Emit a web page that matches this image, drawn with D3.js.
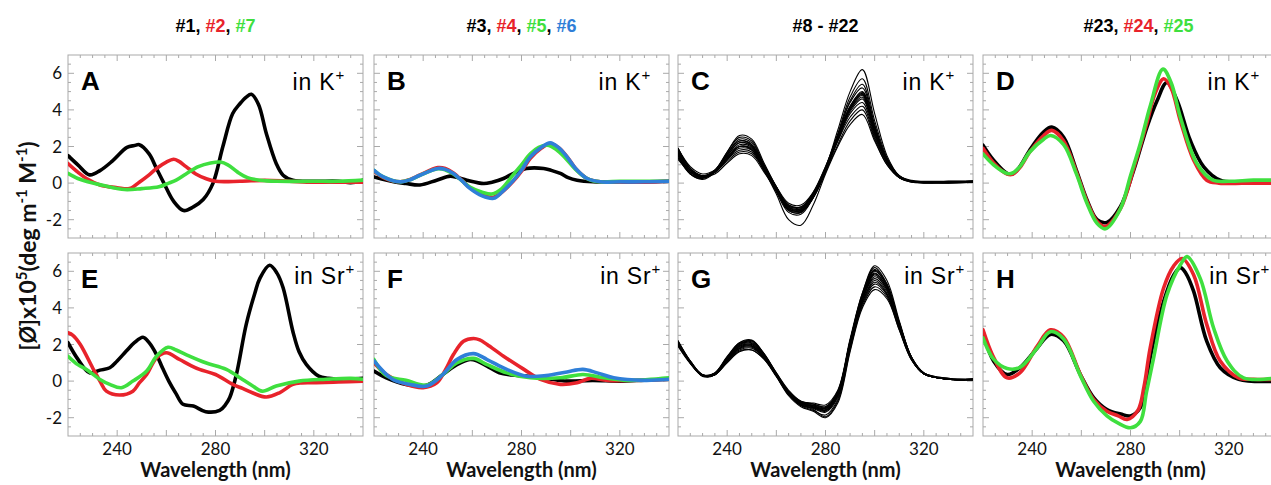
<!DOCTYPE html>
<html>
<head>
<meta charset="utf-8">
<script src="https://cdn.jsdelivr.net/npm/d3@7"></script>
<style>
  body { margin: 0; background: #fff; }
  .frame { fill: none; stroke: #a9a9a9; stroke-width: 1; }
  .tk { stroke: #a9a9a9; stroke-width: 1; }
  .ticklab { font-family: Lato, "Open Sans", sans-serif; font-size: 17px; fill: #111; }
  .xtitle { font-family: Lato, "Open Sans", sans-serif; font-size: 20px; font-weight: bold; fill: #111; }
  .ytitle { font-family: Lato, "Open Sans", sans-serif; font-size: 23px; font-weight: bold; fill: #111; }
  .letter { font-family: "Liberation Sans", Arial, sans-serif; font-size: 26px; font-weight: bold; fill: #000; }
  .ion { font-family: "Liberation Sans", Arial, sans-serif; font-size: 23px; letter-spacing: 0.8px; fill: #000; }
  .title { font-family: "Liberation Sans", Arial, sans-serif; font-size: 18px; font-weight: bold; }
  .line { fill: none; stroke-linejoin: round; stroke-linecap: round; }
</style>
</head>
<body>
<svg id="chart"></svg>
<script>
/* global d3 */

var COL = { k: "#000000", r: "#e8232b", g: "#3fdf3f", b: "#2f7fd8" };

// x ticks / labels
var xLabels = [240, 280, 320];
var yLabels = [-2, 0, 2, 4, 6];

// --- panel A (#1 black, #2 red, #7 green) in K+
var aBlack = [[220,1.5],[224,1.0],[228.8,0.45],[233,0.68],[238,1.2],[244,1.95],[247,2.05],[249,2.1],[253,1.6],[256,0.8],[259,0.0],[263,-1.0],[267,-1.5],[271,-1.3],[275,-0.9],[279,0.0],[283,2.0],[287,3.8],[290,4.35],[292.5,4.7],[294.6,4.85],[297.5,4.3],[300.7,2.7],[304.7,1.07],[307.5,0.43],[311.5,0.16],[320,0.1],[330,0.1],[335,0.02],[340,0.15]];
var aRed = [[220,1.07],[224,0.6],[227.5,0.25],[233,-0.1],[240,-0.25],[245,-0.3],[249,0.05],[253,0.45],[256,0.8],[260,1.15],[263,1.3],[265,1.2],[268,0.9],[272,0.5],[276,0.25],[280,0.1],[290,0.1],[300,0.15],[310,0.1],[320,0.05],[330,0.05],[340,0.05]];
var aGreen = [[220,0.53],[224,0.25],[228,0.07],[235,-0.15],[243,-0.35],[250,-0.3],[257,-0.2],[261,0.0],[264,0.16],[268,0.5],[273,0.9],[278,1.1],[282,1.15],[285,1.0],[289,0.6],[293,0.3],[298,0.16],[305,0.1],[320,0.1],[330,0.1],[340,0.16]];

// --- panel E (#1, #2, #7) in Sr+
var eBlack = [[220,2.1],[224,1.2],[228.8,0.45],[233,0.6],[237,0.73],[240,1.1],[243.7,1.64],[247,2.1],[250.5,2.4],[253,2.1],[256,1.45],[258.5,0.7],[261,0.0],[264,-0.7],[266.8,-1.27],[271,-1.36],[276,-1.67],[281.7,-1.6],[284,-1.3],[285.8,-0.9],[288.5,0.36],[292.5,3.1],[296,4.8],[298,5.6],[302,6.33],[305,5.9],[307.5,5.1],[311.5,2.7],[314,1.6],[317,0.9],[322,0.27],[326,0.15],[330,0.1],[340,0.15]];
var eRed = [[220,2.64],[222,2.5],[225,2.0],[230,0.73],[233,0.0],[235.6,-0.55],[241,-0.76],[246.4,-0.55],[249,-0.1],[252,0.36],[256,1.27],[260,1.55],[265.4,1.18],[270,0.85],[273.5,0.64],[280,0.36],[287,-0.18],[291,-0.4],[295,-0.64],[300.7,-0.87],[306,-0.64],[311.5,-0.18],[315,-0.1],[321,-0.09],[330,-0.05],[340,0.0]];
var eGreen = [[220,1.36],[224,0.9],[227.5,0.64],[233,0.09],[237,-0.18],[241.7,-0.36],[246.4,0.0],[252,0.55],[256,1.36],[260.7,1.85],[264,1.7],[268,1.45],[276,1.0],[284.4,0.64],[291,0.09],[295,-0.25],[299,-0.55],[304.7,-0.27],[314,0.0],[325,0.1],[335,0.15],[340,0.1]];

// --- panel B (#3 black, #4 red, #5 green, #6 blue) in K+
var bBlack = [[220,0.34],[228,0.07],[233,-0.02],[238.7,-0.1],[245.5,0.16],[251,0.38],[254,0.3],[257.8,0.16],[264.6,-0.02],[268,0.05],[272.7,0.25],[277,0.55],[282,0.8],[289,0.8],[292,0.7],[295.8,0.53],[299,0.3],[302.6,0.16],[309,0.07],[320,0.07],[330,0.07],[340,0.1]];
var bRed = [[220,0.65],[223.8,0.3],[230.6,0.07],[235,0.22],[238.7,0.45],[246,0.85],[249,0.8],[252.3,0.55],[256,0.12],[259,-0.25],[264,-0.65],[268.6,-0.78],[272,-0.5],[276.8,0.12],[280,0.65],[283.6,1.35],[288,1.9],[291.7,2.15],[295,1.95],[298.5,1.45],[302,0.8],[306.7,0.25],[312,0.07],[320,0.07],[330,0.05],[340,0.1]];
var bGreen = [[220,0.7],[223.8,0.34],[230.6,0.07],[235,0.2],[238.7,0.42],[246,0.78],[249,0.72],[252.3,0.5],[256,0.1],[259,-0.22],[264,-0.5],[268,-0.6],[272,-0.3],[276,0.35],[280,1.0],[283.6,1.6],[287,1.95],[290.5,2.07],[294,1.85],[298,1.35],[302,0.75],[306.7,0.25],[312,0.07],[320,0.1],[330,0.1],[340,0.1]];
var bBlue = [[220,0.7],[223.8,0.34],[230.6,0.07],[235,0.2],[238.7,0.43],[246,0.8],[249,0.75],[252.3,0.53],[256,0.1],[259,-0.29],[264,-0.7],[268.6,-0.83],[272,-0.5],[276.8,0.16],[280,0.7],[283.6,1.43],[288,1.95],[291.7,2.2],[295,1.95],[298.5,1.43],[302,0.8],[306.7,0.25],[312,0.07],[320,0.07],[330,0.07],[340,0.1]];

// --- panel F (#3, #4, #5, #6) in Sr+
var fBlack = [[220,0.55],[225,0.18],[233,-0.18],[241.5,-0.22],[248,0.36],[253.7,0.9],[259,1.18],[262,1.1],[266,0.82],[271,0.45],[276,0.33],[282,0.27],[290,0.15],[298.5,0.0],[309,0.04],[320,0.0],[330,0.05],[340,0.1]];
var fRed = [[220,1.0],[225,0.36],[233,-0.18],[240,-0.36],[245.5,-0.1],[249,0.6],[252.3,1.45],[256.4,2.18],[260.5,2.33],[263,2.25],[266,2.0],[272.7,1.36],[281,0.64],[287.7,0.09],[295.8,-0.18],[302.6,-0.09],[308,0.15],[315,0.04],[330,0.05],[340,0.1]];
var fGreen = [[220,1.18],[225,0.3],[233,0.04],[241.5,-0.22],[248,0.36],[253.7,1.0],[260.5,1.24],[266,0.9],[274,0.45],[283.6,0.18],[295.8,0.18],[305,0.36],[313.5,0.18],[323,0.04],[340,0.18]];
var fBlue = [[220,1.1],[227.5,0.1],[234.6,-0.18],[241.5,-0.27],[248,0.36],[253.7,1.18],[260.5,1.5],[266,1.18],[274,0.64],[282,0.27],[290,0.3],[298.5,0.5],[305,0.64],[310.8,0.45],[317.5,0.18],[330,0.04],[340,0.1]];

// --- panels C and G (#8 - #22), shared wavelength grid
var gridCG = [220,225,230,235,240,245,250,255,260,265,270,275,280,285,290,295,300,305,310,315,320,330,340];
var cRows = [
  [1.9,0.8,0.4,0.7,1.6,2.3,2.1,0.9,-0.3,-1.4,-1.5,-0.7,0.8,2.9,5.0,6.2,3.8,1.5,0.4,0.1,0.05,0.05,0.1],
  [1.6,0.6,0.3,0.7,1.7,2.6,2.4,1.1,-0.2,-1.2,-1.3,-0.6,0.8,2.7,4.7,5.7,3.4,1.4,0.4,0.1,0.05,0.1,0.1],
  [1.8,0.7,0.35,0.6,1.4,2.1,1.95,0.8,-0.4,-1.5,-1.6,-0.8,0.6,2.6,4.5,5.4,3.2,1.3,0.35,0.1,0.0,0.05,0.1],
  [1.5,0.5,0.25,0.6,1.6,2.4,2.2,1.0,-0.2,-1.3,-1.4,-0.6,0.7,2.6,4.4,5.2,3.1,1.3,0.35,0.1,0.05,0.05,0.05],
  [1.7,0.7,0.4,0.6,1.4,2.0,1.8,0.7,-0.5,-1.6,-1.7,-0.8,0.7,2.5,4.2,5.0,3.0,1.25,0.3,0.05,0.0,0.0,0.05],
  [1.4,0.6,0.3,0.7,1.5,2.2,2.05,0.9,-0.3,-1.2,-1.3,-0.5,0.9,2.6,4.2,4.95,2.9,1.3,0.4,0.15,0.1,0.1,0.1],
  [1.9,0.9,0.5,0.7,1.3,1.8,1.7,0.7,-0.4,-1.4,-1.5,-0.7,0.7,2.5,4.1,4.9,2.9,1.2,0.35,0.1,0.05,0.05,0.1],
  [1.6,0.5,0.2,0.6,1.7,2.5,2.3,1.0,-0.2,-1.3,-1.4,-0.6,0.8,2.6,4.1,4.85,2.95,1.25,0.3,0.05,0.05,0.0,0.05],
  [1.8,0.8,0.4,0.6,1.3,1.9,1.8,0.8,-0.4,-1.5,-1.6,-0.8,0.6,2.4,4.0,4.8,2.8,1.2,0.35,0.1,0.05,0.05,0.1],
  [1.3,0.6,0.3,0.7,1.5,2.2,2.0,0.9,-0.2,-1.1,-1.2,-0.5,0.9,2.6,4.0,4.7,2.8,1.2,0.35,0.1,0.05,0.1,0.1],
  [1.7,0.7,0.35,0.6,1.4,2.0,1.9,0.8,-0.3,-1.4,-1.5,-0.7,0.7,2.4,3.9,4.6,2.7,1.15,0.3,0.1,0.05,0.05,0.05],
  [1.5,0.7,0.4,0.6,1.2,1.7,1.6,0.7,-0.4,-1.35,-1.45,-0.7,0.7,2.3,3.8,4.4,2.6,1.1,0.3,0.1,0.05,0.05,0.1],
  [1.9,0.8,0.3,0.7,1.6,2.3,2.1,0.9,-0.3,-1.25,-1.35,-0.6,0.8,2.3,3.6,4.2,2.5,1.1,0.35,0.1,0.05,0.05,0.1],
  [1.6,0.6,0.35,0.5,1.1,1.6,1.5,0.6,-0.4,-1.45,-1.55,-0.8,0.6,2.1,3.4,4.0,2.4,1.0,0.3,0.1,0.05,0.05,0.05],
  [1.4,0.5,0.3,0.6,1.3,2.0,1.85,0.7,-0.6,-2.0,-2.3,-1.2,0.5,2.0,3.2,3.75,2.3,1.0,0.3,0.1,0.05,0.05,0.1]
];
var gRows = [
  [2.1,1.0,0.3,0.4,1.3,2.1,2.25,1.5,0.4,-0.6,-1.2,-1.35,-1.5,-0.6,2.2,4.8,6.3,5.5,3.3,1.3,0.4,0.1,0.1],
  [2.0,1.1,0.35,0.45,1.3,2.0,2.2,1.5,0.45,-0.5,-1.1,-1.2,-1.3,-0.5,2.3,4.8,6.2,5.3,3.2,1.3,0.45,0.1,0.1],
  [2.2,1.05,0.25,0.35,1.25,2.05,2.15,1.4,0.35,-0.65,-1.2,-1.35,-1.5,-0.7,2.1,4.6,6.1,5.3,3.2,1.25,0.4,0.1,0.05],
  [1.9,0.95,0.3,0.45,1.35,2.1,2.2,1.45,0.4,-0.6,-1.15,-1.25,-1.4,-0.6,2.2,4.7,6.05,5.2,3.1,1.3,0.45,0.15,0.1],
  [2.1,1.0,0.3,0.35,1.2,1.9,2.0,1.35,0.35,-0.7,-1.3,-1.45,-1.65,-0.8,2.0,4.5,6.0,5.2,3.2,1.3,0.4,0.1,0.1],
  [2.05,1.05,0.35,0.4,1.25,1.95,2.05,1.4,0.4,-0.6,-1.15,-1.3,-1.45,-0.65,2.1,4.6,5.9,5.1,3.1,1.25,0.4,0.1,0.1],
  [2.15,1.1,0.3,0.4,1.2,1.85,1.95,1.3,0.3,-0.7,-1.25,-1.4,-1.6,-0.75,2.0,4.4,5.85,5.1,3.1,1.3,0.45,0.1,0.1],
  [2.0,1.0,0.3,0.45,1.3,2.0,2.1,1.45,0.45,-0.55,-1.1,-1.25,-1.4,-0.55,2.2,4.6,5.8,5.0,3.0,1.2,0.4,0.1,0.05],
  [2.1,1.05,0.3,0.35,1.15,1.8,1.9,1.3,0.3,-0.7,-1.3,-1.5,-1.7,-0.9,1.9,4.4,5.7,5.0,3.0,1.2,0.4,0.1,0.1],
  [1.95,1.0,0.35,0.4,1.2,1.9,2.0,1.35,0.35,-0.6,-1.2,-1.35,-1.5,-0.7,2.0,4.5,5.6,4.9,3.0,1.25,0.45,0.15,0.1],
  [2.1,1.05,0.3,0.35,1.1,1.75,1.85,1.25,0.3,-0.7,-1.3,-1.45,-1.6,-0.8,1.9,4.3,5.5,4.8,2.9,1.2,0.4,0.1,0.1],
  [2.0,1.0,0.3,0.4,1.15,1.8,1.9,1.3,0.35,-0.65,-1.25,-1.4,-1.55,-0.75,1.9,4.3,5.4,4.75,2.9,1.2,0.4,0.1,0.1],
  [2.2,1.1,0.35,0.35,1.0,1.6,1.7,1.2,0.25,-0.75,-1.35,-1.6,-1.85,-1.0,1.8,4.2,5.3,4.7,2.9,1.2,0.4,0.1,0.1],
  [2.05,1.0,0.3,0.4,1.1,1.7,1.8,1.25,0.3,-0.7,-1.3,-1.55,-1.95,-1.1,1.7,4.1,5.15,4.6,2.8,1.15,0.4,0.1,0.1],
  [2.1,1.05,0.35,0.35,1.05,1.65,1.7,1.2,0.25,-0.8,-1.4,-1.65,-2.0,-1.2,1.6,4.0,5.0,4.5,2.8,1.15,0.4,0.1,0.1]
];

// --- panel D (#23 black, #24 red, #25 green) in K+
var dBlack = [[220,2.07],[224.3,1.25],[229.8,0.53],[232,0.5],[235,0.9],[239,1.8],[244.7,2.8],[248,3.06],[252.8,2.5],[258,0.7],[262.3,-0.92],[266.4,-2.0],[270.4,-2.15],[275.9,-1.29],[281.3,0.7],[286.7,3.06],[290.8,4.5],[294.8,5.5],[299,4.5],[304.3,2.34],[309.8,0.89],[316.5,0.16],[325,0.07],[340,0.07]];
var dRed = [[220,1.9],[224.3,1.1],[229.8,0.5],[232,0.48],[235,0.85],[239,1.7],[244.7,2.6],[248,2.88],[252.8,2.3],[258,0.6],[262.3,-1.0],[266.4,-2.1],[269.8,-2.37],[275.9,-1.4],[281.3,0.8],[286.7,3.3],[290,4.9],[293.5,5.7],[296.5,5.2],[300.3,3.4],[305.7,1.25],[311,0.16],[316,0.0],[330,0.0],[340,0.0]];
var dGreen = [[220,1.6],[224.3,1.0],[229.8,0.53],[232,0.55],[235,0.9],[239,1.7],[244.7,2.4],[247.5,2.6],[252.8,2.1],[258,0.5],[262.3,-1.1],[266.4,-2.2],[269.8,-2.5],[275.9,-1.4],[280,0.4],[284,2.16],[288,4.2],[293.2,6.23],[296.5,5.5],[300.3,3.6],[307,1.07],[313.5,0.16],[320,0.1],[330,0.16],[340,0.16]];

// --- panel H (#23, #24, #25) in Sr+
var hBlack = [[220,2.7],[224.3,1.1],[229.8,0.36],[235,0.73],[242,1.8],[247.4,2.55],[252.8,2.2],[259.6,0.36],[265,-0.9],[270.4,-1.55],[276,-1.8],[280,-1.9],[284,-1.45],[286,-0.3],[288,1.27],[293.5,4.36],[297.6,5.8],[300.3,6.2],[302.5,5.9],[305.7,4.9],[311,2.18],[316.5,0.73],[324,0.1],[340,0.0]];
var hRed = [[220,2.8],[224.3,1.3],[229.8,0.18],[235,0.45],[242,1.9],[247.4,2.8],[252.8,2.4],[259.6,0.36],[265,-1.0],[270.4,-1.65],[275,-1.9],[278.6,-2.1],[283,-1.6],[285.5,-0.3],[288,1.8],[293.5,5.1],[297.6,6.3],[301,6.7],[305.7,5.8],[311,3.1],[316.5,1.1],[324,0.18],[330,0.1],[340,0.1]];
var hGreen = [[220,2.36],[224.3,1.2],[229.8,0.69],[235,0.75],[242,1.8],[247.4,2.7],[252.8,2.3],[259.6,0.3],[265,-1.1],[270.4,-1.9],[275,-2.3],[280,-2.55],[284,-2.2],[286.5,-0.6],[289.4,1.27],[294.8,4.7],[300.3,6.36],[303,6.8],[308.4,5.6],[313.8,2.9],[319.3,1.1],[326,0.18],[340,0.18]];

// column titles
var titles = [
  [["#1, ","k"],["#2","r"],[", ","k"],["#7","g"]],
  [["#3, ","k"],["#4","r"],[", ","k"],["#5","g"],[", ","k"],["#6","b"]],
  [["#8 - #22","k"]],
  [["#23, ","k"],["#24","r"],[", ","k"],["#25","g"]]
];

function zipGrid(rows) {
  return rows.map(function (r) {
    return r.map(function (v, i) { return [gridCG[i], v]; });
  });
}

var panels = [
  { id: "A", col: 0, row: 0, ion: "K",  thick: [[aBlack,"k"],[aRed,"r"],[aGreen,"g"]] },
  { id: "B", col: 1, row: 0, ion: "K",  thick: [[bBlack,"k"],[bRed,"r"],[bGreen,"g"],[bBlue,"b"]] },
  { id: "C", col: 2, row: 0, ion: "K",  thin: zipGrid(cRows) },
  { id: "D", col: 3, row: 0, ion: "K",  thick: [[dBlack,"k"],[dRed,"r"],[dGreen,"g"]] },
  { id: "E", col: 0, row: 1, ion: "Sr", thick: [[eBlack,"k"],[eRed,"r"],[eGreen,"g"]] },
  { id: "F", col: 1, row: 1, ion: "Sr", thick: [[fBlack,"k"],[fRed,"r"],[fGreen,"g"],[fBlue,"b"]] },
  { id: "G", col: 2, row: 1, ion: "Sr", thin: zipGrid(gRows) },
  { id: "H", col: 3, row: 1, ion: "Sr", thick: [[hBlack,"k"],[hRed,"r"],[hGreen,"g"]] }
];

var width = 1271, height = 485;
var colLeft = [68, 374, 678, 983],
  rowTop = [55, 253],
  pw = 295, ph = 183;

var svg = d3.select("#chart")
  .attr("width", width)
  .attr("height", height);

var defs = svg.append("defs");

panels.forEach(function (p) {
  var left = colLeft[p.col], top = rowTop[p.row];
  var x = d3.scaleLinear().domain([220, 340]).range([left, left + pw]);
  var y = d3.scaleLinear().domain([-3, 7]).range([top + ph, top]);
  var g = svg.append("g").attr("class", "panel");

  // ticks on all four sides, pointing inward
  var xt = d3.range(225, 340, 5), yt = d3.range(-2.5, 7, 0.5);
  xt.forEach(function (v) {
    var len = v % 20 === 0 ? 6 : 3;
    g.append("line").attr("class", "tk")
      .attr("x1", x(v)).attr("x2", x(v)).attr("y1", top + ph).attr("y2", top + ph - len);
    g.append("line").attr("class", "tk")
      .attr("x1", x(v)).attr("x2", x(v)).attr("y1", top).attr("y2", top + len);
  });
  yt.forEach(function (v) {
    var len = v % 2 === 0 ? 6 : 3;
    g.append("line").attr("class", "tk")
      .attr("x1", left).attr("x2", left + len).attr("y1", y(v)).attr("y2", y(v));
    g.append("line").attr("class", "tk")
      .attr("x1", left + pw).attr("x2", left + pw - len).attr("y1", y(v)).attr("y2", y(v));
  });

  g.append("rect").attr("class", "frame")
    .attr("x", left).attr("y", top).attr("width", pw).attr("height", ph);

  // clip
  defs.append("clipPath").attr("id", "clip" + p.id)
    .append("rect").attr("x", left).attr("y", top).attr("width", pw).attr("height", ph);

  var line = d3.line()
    .x(function (d) { return x(d[0]); })
    .y(function (d) { return y(d[1]); })
    .curve(d3.curveCatmullRom.alpha(0.5));

  var lg = g.append("g").attr("clip-path", "url(#clip" + p.id + ")");
  if (p.thin) {
    lg.selectAll("path").data(p.thin).enter().append("path")
      .attr("class", "line")
      .attr("stroke", "#000")
      .attr("stroke-width", 1.1)
      .attr("d", line);
  } else {
    lg.selectAll("path").data(p.thick).enter().append("path")
      .attr("class", "line")
      .attr("stroke", function (d) { return COL[d[1]]; })
      .attr("stroke-width", 3.6)
      .attr("d", function (d) { return line(d[0]); });
  }

  // panel letter & ion label
  g.append("text").attr("class", "letter")
    .attr("x", left + 13).attr("y", top + 35).text(p.id);
  var ion = g.append("text").attr("class", "ion")
    .attr("text-anchor", "end")
    .attr("x", left + pw - (p.ion === "K" ? 18 : 8))
    .attr("y", top + (p.ion === "K" ? 35 : 31));
  ion.append("tspan").text("in " + p.ion);
  ion.append("tspan").attr("dy", -10).attr("font-size", 15).text("+");

  // tick labels
  if (p.col === 0) {
    yLabels.forEach(function (v) {
      g.append("text").attr("class", "ticklab")
        .attr("text-anchor", "end")
        .attr("x", left - 6).attr("y", y(v) + 6)
        .text(v);
    });
  }
  if (p.row === 1) {
    xLabels.forEach(function (v) {
      g.append("text").attr("class", "ticklab")
        .attr("text-anchor", "middle")
        .attr("x", x(v)).attr("y", top + ph + 19)
        .text(v);
    });
    g.append("text").attr("class", "xtitle")
      .attr("text-anchor", "middle")
      .attr("x", left + pw / 2).attr("y", top + ph + 41)
      .text("Wavelength (nm)");
  }
});

// column titles
titles.forEach(function (parts, i) {
  var t = svg.append("text").attr("class", "title")
    .attr("text-anchor", "middle")
    .attr("x", colLeft[i] + pw / 2 + (i === 3 ? 8 : 0)).attr("y", 32);
  parts.forEach(function (pt) {
    t.append("tspan").attr("fill", COL[pt[1]]).text(pt[0]);
  });
});

// y axis title
var yt = svg.append("text")
  .attr("class", "ytitle")
  .attr("text-anchor", "middle")
  .attr("transform", "translate(36,246) rotate(-90)");
yt.append("tspan").text("[");
yt.append("tspan").attr("font-style", "italic").text("Ø");
yt.append("tspan").text("]x10");
yt.append("tspan").attr("dy", -9).attr("font-size", 15).text("5");
yt.append("tspan").attr("dy", 9).text("(deg m");
yt.append("tspan").attr("dy", -9).attr("font-size", 15).text("-1");
yt.append("tspan").attr("dy", 9).text(" M");
yt.append("tspan").attr("dy", -9).attr("font-size", 15).text("-1");
yt.append("tspan").attr("dy", 9).text(")");
</script>
</body>
</html>
